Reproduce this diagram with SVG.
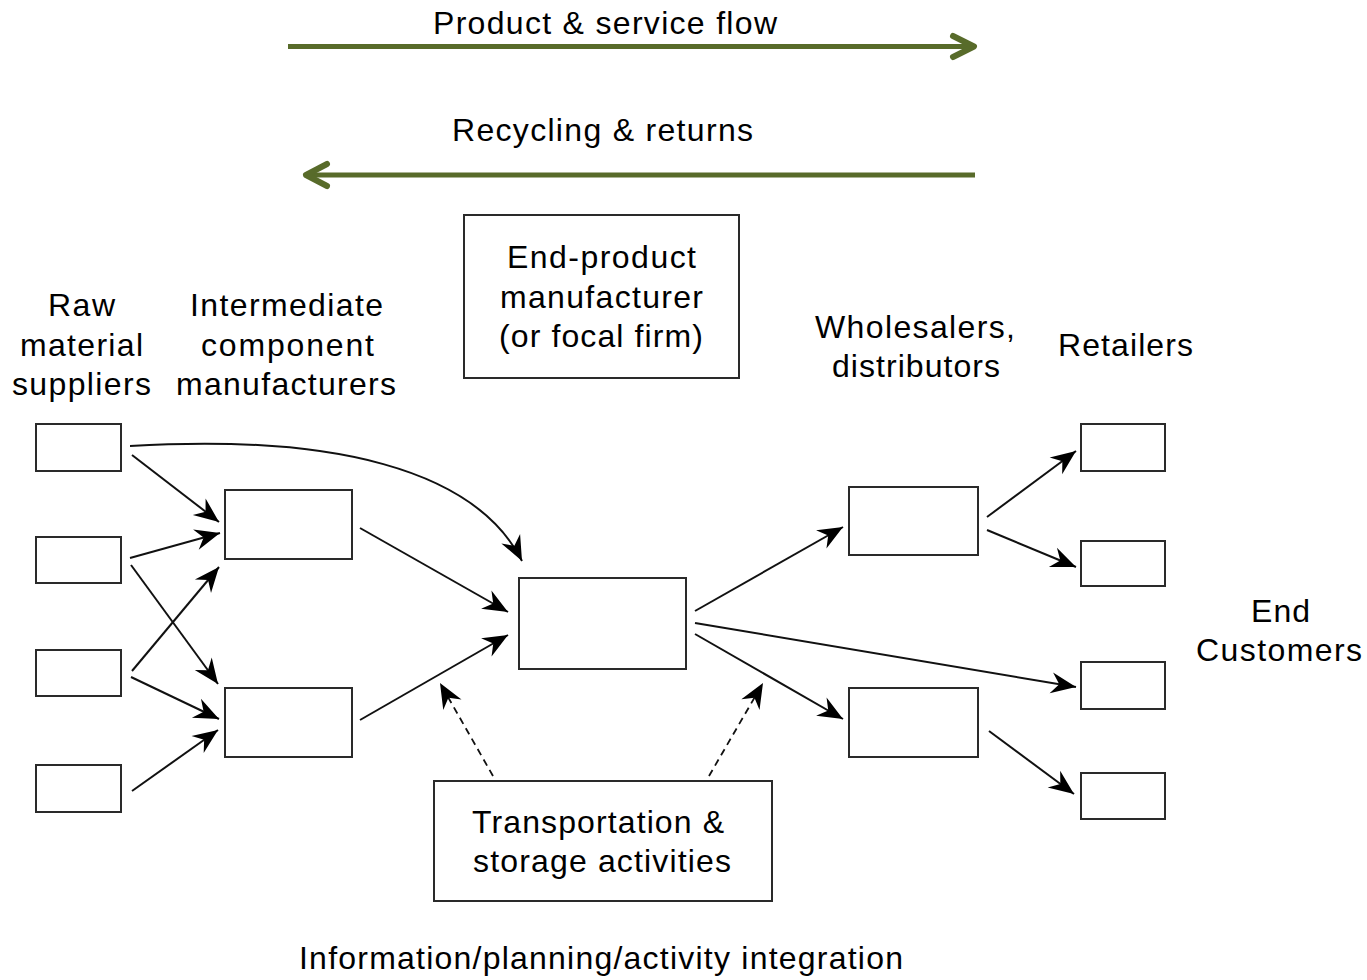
<svg xmlns="http://www.w3.org/2000/svg" width="1367" height="980" viewBox="0 0 1367 980">
<style>
  .box { fill: #ffffff; stroke: #2a2a2a; stroke-width: 2; }
  .lbl { font-family: "Liberation Sans", Arial, sans-serif; font-size: 32px; fill: #000000; text-anchor: middle; }
  .edge { fill: none; stroke: #111111; stroke-width: 2; }
  .dash { fill: none; stroke: #111111; stroke-width: 1.8; stroke-dasharray: 7 5; }
  .flow { fill: none; stroke: #586b2a; stroke-width: 5; }
  .chev { fill: none; stroke: #586b2a; stroke-width: 6; stroke-linecap: round; stroke-linejoin: round; }
</style>
<defs>
  <marker id="ah" markerUnits="userSpaceOnUse" markerWidth="30" markerHeight="26" refX="0" refY="0" viewBox="-28 -13 30 26" orient="auto">
    <path d="M0,0 L-25,-10.5 L-17,0 L-25,10.5 Z" fill="#000000"/>
  </marker>
</defs>
<rect x="0" y="0" width="1367" height="980" fill="#ffffff"/>

<g id="flow-arrows">
  <text class="lbl" x="605" y="34" textLength="344" lengthAdjust="spacing">Product &amp; service flow</text>
  <line class="flow" x1="288" y1="46.5" x2="972" y2="46.5"/>
  <polyline class="chev" points="953,36 974,46.5 953,57"/>
  <text class="lbl" x="602.5" y="141" textLength="301" lengthAdjust="spacing">Recycling &amp; returns</text>
  <line class="flow" x1="308" y1="175" x2="975" y2="175"/>
  <polyline class="chev" points="327,164 306,175 327,186"/>
</g>

<g id="stage-labels">
  <text class="lbl" x="81.5" y="316" textLength="67" lengthAdjust="spacing">Raw</text>
  <text class="lbl" x="81.5" y="356" textLength="123" lengthAdjust="spacing">material</text>
  <text class="lbl" x="81.5" y="395" textLength="139" lengthAdjust="spacing">suppliers</text>
  <text class="lbl" x="286.5" y="316" textLength="193" lengthAdjust="spacing">Intermediate</text>
  <text class="lbl" x="287.5" y="356" textLength="173" lengthAdjust="spacing">component</text>
  <text class="lbl" x="286" y="395" textLength="220" lengthAdjust="spacing">manufacturers</text>
  <text class="lbl" x="915" y="338" textLength="200" lengthAdjust="spacing">Wholesalers,</text>
  <text class="lbl" x="916" y="377" textLength="168" lengthAdjust="spacing">distributors</text>
  <text class="lbl" x="1125.5" y="356" textLength="135" lengthAdjust="spacing">Retailers</text>
  <text class="lbl" x="1280.5" y="622" textLength="59" lengthAdjust="spacing">End</text>
  <text class="lbl" x="1279" y="661" textLength="166" lengthAdjust="spacing">Customers</text>
  <text class="lbl" x="601" y="969" textLength="604" lengthAdjust="spacing">Information/planning/activity integration</text>
</g>

<g id="end-product-label">
  <rect class="box" x="464" y="215" width="275" height="163"/>
  <text class="lbl" x="601.5" y="268" textLength="189" lengthAdjust="spacing">End-product</text>
  <text class="lbl" x="601.5" y="308" textLength="203" lengthAdjust="spacing">manufacturer</text>
  <text class="lbl" x="601" y="347" textLength="204" lengthAdjust="spacing">(or focal firm)</text>
</g>

<g id="transport">
  <rect class="box" x="434" y="781" width="338" height="120"/>
  <text class="lbl" x="598" y="833" textLength="252" lengthAdjust="spacing">Transportation &amp;</text>
  <text class="lbl" x="602" y="872" textLength="258" lengthAdjust="spacing">storage activities</text>
</g>

<g id="raw1"><rect class="box" x="36" y="424" width="85" height="47"/></g>
<g id="raw2"><rect class="box" x="36" y="537" width="85" height="46"/></g>
<g id="raw3"><rect class="box" x="36" y="650" width="85" height="46"/></g>
<g id="raw4"><rect class="box" x="36" y="765" width="85" height="47"/></g>

<g id="inter1"><rect class="box" x="225" y="490" width="127" height="69"/></g>
<g id="inter2"><rect class="box" x="225" y="688" width="127" height="69"/></g>

<g id="focal"><rect class="box" x="519" y="578" width="167" height="91"/></g>

<g id="whole1"><rect class="box" x="849" y="487" width="129" height="68"/></g>
<g id="whole2"><rect class="box" x="849" y="688" width="129" height="69"/></g>

<g id="retail1"><rect class="box" x="1081" y="424" width="84" height="47"/></g>
<g id="retail2"><rect class="box" x="1081" y="541" width="84" height="45"/></g>
<g id="retail3"><rect class="box" x="1081" y="662" width="84" height="47"/></g>
<g id="retail4"><rect class="box" x="1081" y="773" width="84" height="46"/></g>

<g id="connectors">
  <path class="edge" marker-end="url(#ah)" d="M132,455 L219,522"/>
  <path class="edge" marker-end="url(#ah)" d="M130,558 L220,533"/>
  <path class="edge" marker-end="url(#ah)" d="M131,565 L218,684"/>
  <path class="edge" marker-end="url(#ah)" d="M132,671 L219,567"/>
  <path class="edge" marker-end="url(#ah)" d="M131,677 L219,719"/>
  <path class="edge" marker-end="url(#ah)" d="M132,791 L218,730"/>
  <path class="edge" marker-end="url(#ah)" d="M130,446 C330,434 475,468 522,561"/>
  <path class="edge" marker-end="url(#ah)" d="M360,528 L508,612"/>
  <path class="edge" marker-end="url(#ah)" d="M360,720 L508,635"/>
  <path class="edge" marker-end="url(#ah)" d="M695,611 L843,527"/>
  <path class="edge" marker-end="url(#ah)" d="M695,623 L1076,687"/>
  <path class="edge" marker-end="url(#ah)" d="M695,634 L843,719"/>
  <path class="edge" marker-end="url(#ah)" d="M987,517 L1076,451"/>
  <path class="edge" marker-end="url(#ah)" d="M987,530 L1076,567"/>
  <path class="edge" marker-end="url(#ah)" d="M989,731 L1074,794"/>
  <path class="dash" marker-end="url(#ah)" d="M493,776 L440,683"/>
  <path class="dash" marker-end="url(#ah)" d="M709,776 L763,683"/>
</g>
</svg>
